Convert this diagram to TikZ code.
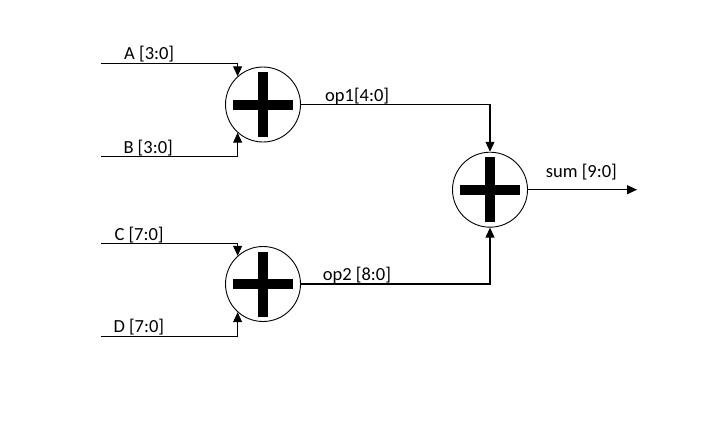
\documentclass[tikz,border=0pt]{standalone}
\usepackage{fontspec}
\setmainfont{Carlito}
\usetikzlibrary{arrows.meta}
\tikzset{
  adder/.style={circle, draw, line width=0.9pt, minimum size=75pt, inner sep=0pt,
    path picture={
      \fill[black] ([shift={(-5pt,-32.5pt)}]path picture bounding box.center) rectangle ++(10pt,65pt);
      \fill[black] ([shift={(-30pt,-5pt)}]path picture bounding box.center) rectangle ++(60pt,10pt);
    }},
  wire/.style={line width=1.1pt, -{Triangle[length=10pt,width=9pt]}},
  lbl/.style={anchor=base west, inner sep=0pt, font=\fontsize{18.5}{22}\selectfont}
}
\begin{document}
\begin{tikzpicture}[x=1pt,y=1pt]
\useasboundingbox (0,0) rectangle (714,-436);
\node[adder] (a1) at (263,-104.5) {};
\node[adder] (a2) at (263,-284) {};
\node[adder] (a3) at (490,-189.7) {};
\coordinate (A0) at (101,-63.3);
\coordinate (B0) at (101,-156.7);
\coordinate (C0) at (101,-243.3);
\coordinate (D0) at (101,-336.7);
\coordinate (S1) at (637,-189.7);
\draw[wire] (A0) -| (a1.132);
\draw[wire] (B0) -| (a1.228);
\draw[wire] (C0) -| (a2.132);
\draw[wire] (D0) -| (a2.228);
\draw[wire] (a1.east) -| (a3.north);
\draw[wire] (a2.east) -| (a3.south);
\draw[wire] (a3.east) -- (S1);
\node[lbl] (lA) at (124,-59.5) {A [3:0]};
\node[lbl] (lB) at (123.3,-153) {B [3:0]};
\node[lbl] (lC) at (114.3,-240.5) {C [7:0]};
\node[lbl] (lD) at (113.3,-332.7) {D [7:0]};
\node[lbl] (lop1) at (325,-101) {op1[4:0]};
\node[lbl] (lop2) at (322.7,-280.5) {op2 [8:0]};
\node[lbl] (lsum) at (545.7,-177.3) {sum [9:0]};
\end{tikzpicture}
\end{document}
